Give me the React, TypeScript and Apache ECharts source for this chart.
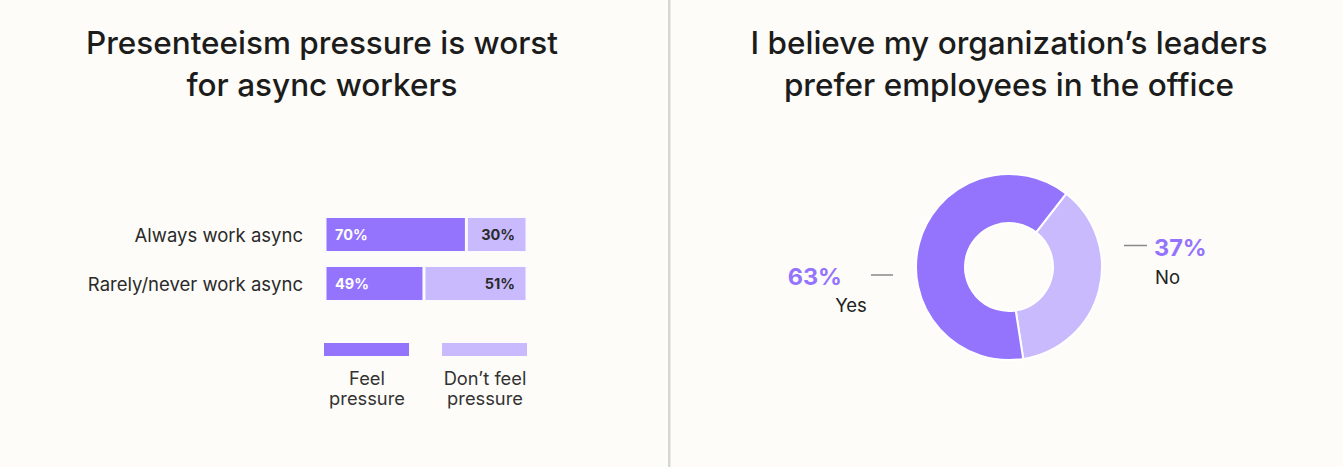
import React, { useEffect, useRef } from "react";
import * as echarts from "echarts";

const barCategories = ["Always work async", "Rarely/never work async"];
const feelPressure = [70, 49];
const dontFeelPressure = [30, 51];
const barSeriesNames = ["Feel\npressure", "Don\u2019t feel\npressure"];

const pieNames = ["No", "Yes"];
const pieValues = [37, 63];

const leftTitle = "Presenteeism pressure is worst\nfor async workers";
const rightTitle = "I believe my organization\u2019s leaders\nprefer employees in the office";

const DARK = "#9474fc";
const LIGHT = "#c9b9fd";
const BG = "#fdfcf8";
const FONT = "Inter, 'Noto Sans', sans-serif";

export default function App() {
  const ref = useRef<HTMLDivElement>(null);
  useEffect(() => {
    document.body.style.margin = "0";
    const chart = echarts.init(ref.current!, null, { renderer: "svg" });
    const pct = (v: number) => `${v}%`;
    chart.setOption({
      animation: false,
      backgroundColor: BG,
      textStyle: { fontFamily: FONT },
      grid: { left: 325, width: 202, top: 210, height: 98 },
      xAxis: {
        type: "value",
        min: 0,
        max: 100,
        show: false,
      },
      yAxis: {
        type: "category",
        data: barCategories,
        inverse: true,
        axisLine: { show: false },
        axisTick: { show: false },
        axisLabel: { margin: 22, fontSize: 18.5, color: "#2a2a2a", fontFamily: FONT },
      },
      series: [
        {
          type: "bar",
          name: barSeriesNames[0],
          stack: "a",
          data: feelPressure,
          barWidth: 36,
          itemStyle: { color: DARK, borderColor: "#fbfaff", borderWidth: 1.5 },
          label: {
            show: true,
            position: "insideLeft",
            distance: 10,
            formatter: (p: any) => pct(p.value),
            color: "#ffffff",
            fontWeight: "bold",
            fontSize: 14.5,
            fontFamily: FONT,
          },
        },
        {
          type: "bar",
          name: barSeriesNames[1],
          stack: "a",
          data: dontFeelPressure,
          barWidth: 36,
          itemStyle: { color: LIGHT, borderColor: "#fbfaff", borderWidth: 1.5 },
          label: {
            show: true,
            position: "insideRight",
            distance: 12,
            formatter: (p: any) => pct(p.value),
            color: "#2a2a2a",
            fontWeight: "bold",
            fontSize: 14.5,
            fontFamily: FONT,
          },
        },
        {
          type: "pie",
          center: [1009, 267],
          radius: [44, 93],
          startAngle: 52,
          clockwise: true,
          label: { show: false },
          labelLine: { show: false },
          itemStyle: { borderColor: "#ffffff", borderWidth: 2 },
          data: pieNames.map((n, i) => ({
            name: n,
            value: pieValues[i],
            itemStyle: { color: i === 0 ? LIGHT : DARK },
          })),
        },
      ],
      graphic: [
        {
          type: "rect",
          shape: { x: 668, y: 0, width: 2.5, height: 467 },
          style: { fill: "#d6d6d4" },
        },
        {
          type: "text",
          x: 322,
          y: 21,
          style: {
            text: leftTitle,
            fontSize: 31.5,
            fontWeight: 500,
            lineHeight: 42,
            fill: "#1c1c1c",
            align: "center",
            fontFamily: FONT,
          },
        },
        {
          type: "text",
          x: 1009,
          y: 21,
          style: {
            text: rightTitle,
            fontSize: 31.5,
            fontWeight: 500,
            lineHeight: 42,
            fill: "#1c1c1c",
            align: "center",
            fontFamily: FONT,
          },
        },
        // legend
        {
          type: "rect",
          shape: { x: 324, y: 343, width: 85, height: 13 },
          style: { fill: DARK },
        },
        {
          type: "rect",
          shape: { x: 442, y: 343, width: 85, height: 13 },
          style: { fill: LIGHT },
        },
        {
          type: "text",
          x: 367,
          y: 368,
          style: {
            text: barSeriesNames[0],
            fontSize: 18.3,
            lineHeight: 20,
            fill: "#333333",
            align: "center",
            fontFamily: FONT,
          },
        },
        {
          type: "text",
          x: 485,
          y: 368,
          style: {
            text: barSeriesNames[1],
            fontSize: 18.3,
            lineHeight: 20,
            fill: "#333333",
            align: "center",
            fontFamily: FONT,
          },
        },
        // pie labels
        {
          type: "text",
          x: 842,
          y: 276,
          style: {
            text: pct(pieValues[1]),
            fontSize: 23.5,
            fontWeight: "bold",
            fill: DARK,
            align: "right",
            verticalAlign: "middle",
            fontFamily: FONT,
          },
        },
        {
          type: "text",
          x: 851,
          y: 305,
          style: {
            text: pieNames[1],
            fontSize: 18.5,
            fill: "#222222",
            align: "center",
            verticalAlign: "middle",
            fontFamily: FONT,
          },
        },
        {
          type: "line",
          shape: { x1: 871, y1: 275, x2: 893, y2: 275 },
          style: { stroke: "#888888", lineWidth: 1.5 },
        },
        {
          type: "text",
          x: 1154,
          y: 247.5,
          style: {
            text: pct(pieValues[0]),
            fontSize: 23.5,
            fontWeight: "bold",
            fill: DARK,
            align: "left",
            verticalAlign: "middle",
            fontFamily: FONT,
          },
        },
        {
          type: "text",
          x: 1155,
          y: 277,
          style: {
            text: pieNames[0],
            fontSize: 18.5,
            fill: "#222222",
            align: "left",
            verticalAlign: "middle",
            fontFamily: FONT,
          },
        },
        {
          type: "line",
          shape: { x1: 1124, y1: 245.5, x2: 1147, y2: 245.5 },
          style: { stroke: "#888888", lineWidth: 1.5 },
        },
      ],
    });
    return () => chart.dispose();
  }, []);
  return <div ref={ref} style={{ width: 1343, height: 467 }} />;
}
